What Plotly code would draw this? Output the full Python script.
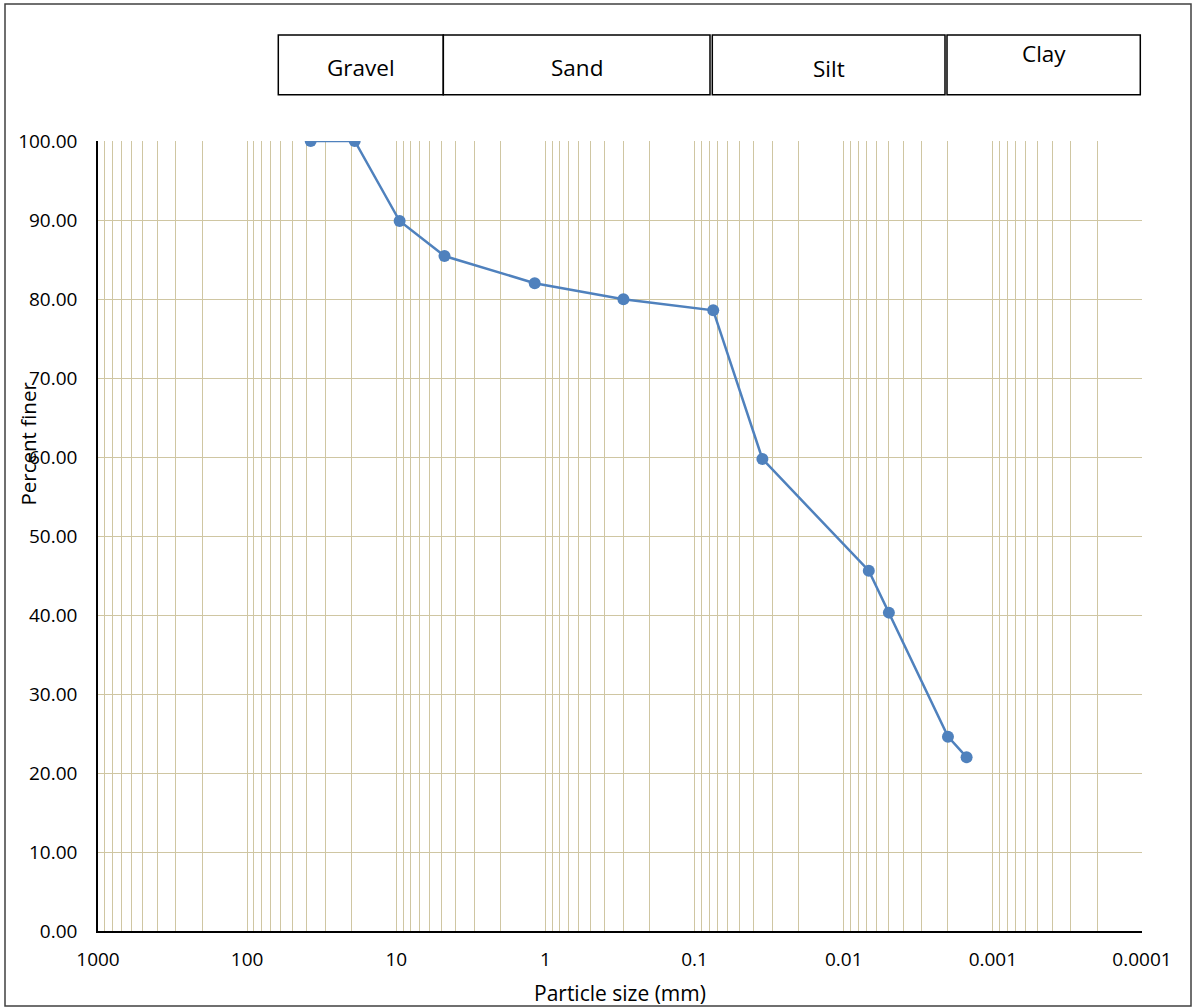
import plotly.graph_objects as go

# ---- data ----
particle_size_mm = [37.5, 19.0, 9.5, 4.75, 1.18, 0.300, 0.075, 0.0351, 0.00679, 0.00498, 0.0020, 0.0015]
percent_finer = [100.0, 100.0, 89.87, 85.44, 82.0, 79.96, 78.57, 59.75, 45.6, 40.3, 24.6, 22.0]

x_tick_vals = [1000, 100, 10, 1, 0.1, 0.01, 0.001, 0.0001]
x_tick_text = ["1000", "100", "10", "1", "0.1", "0.01", "0.001", "0.0001"]
y_tick_vals = [0, 10, 20, 30, 40, 50, 60, 70, 80, 90, 100]

soil_classes = ["Gravel", "Sand", "Silt", "Clay"]

# ---- layout geometry (pixels) ----
W, H = 1193, 1008
L, R, T, B = 98, 51, 141, 77
PW, PH = W - L - R, H - T - B


def xp(px):
    return (px - L) / PW


def yp(py):
    return (H - B - py) / PH


minor_vals = [m * 10 ** e for e in range(-4, 3) for m in range(2, 10)]

GRID = "#CFC6A2"
BLUE = "#4F81BD"
FONT = "Open Sans, DejaVu Sans, sans-serif"

fig = go.Figure()
fig.add_trace(go.Scatter(
    x=particle_size_mm, y=percent_finer, mode="lines+markers",
    line=dict(color=BLUE, width=2.5),
    marker=dict(color=BLUE, size=12),
    showlegend=False,
))

shapes = []
annotations = []

# outer border
shapes.append(dict(type="rect", xref="paper", yref="paper",
                   x0=xp(5), x1=xp(1191), y0=yp(1006), y1=yp(4),
                   line=dict(color="#404040", width=1.5), layer="above"))

# classification boxes
box_x = [(278.3, 443.3), (443.3, 710.0), (712.3, 945.0), (947.0, 1140.3)]
text_y = [68, 68, 69, 53]
for name, (a, b), ty in zip(soil_classes, box_x, text_y):
    shapes.append(dict(type="rect", xref="paper", yref="paper",
                       x0=xp(a), x1=xp(b), y0=yp(94.7), y1=yp(35),
                       line=dict(color="black", width=1.5)))
    annotations.append(dict(text=name, xref="paper", yref="paper",
                            x=xp((a + b) / 2), y=yp(ty), showarrow=False,
                            xanchor="center", yanchor="middle",
                            font=dict(family=FONT, size=22.5, color="black")))

# axis titles
annotations.append(dict(text="Percent finer", xref="paper", yref="paper",
                        x=xp(27.5), y=yp(444), textangle=-90, showarrow=False,
                        xanchor="center", yanchor="middle",
                        font=dict(family=FONT, size=20.5, color="black")))
annotations.append(dict(text="Particle size (mm)", xref="paper", yref="paper",
                        x=0.5, y=yp(993), showarrow=False,
                        xanchor="center", yanchor="middle",
                        font=dict(family=FONT, size=21, color="black")))

fig.update_layout(
    width=W, height=H,
    margin=dict(l=L, r=R, t=T, b=B, pad=0, autoexpand=False),
    paper_bgcolor="white", plot_bgcolor="white",
    font=dict(family=FONT, size=19, color="black"),
    shapes=shapes, annotations=annotations,
    xaxis=dict(
        type="log", range=[3, -4], automargin=False,
        tickvals=x_tick_vals, ticktext=x_tick_text,
        showgrid=True, gridcolor=GRID, gridwidth=1,
        minor=dict(tickvals=minor_vals, showgrid=True, gridcolor=GRID, gridwidth=1, ticks=""),
        showline=True, linecolor="black", linewidth=1.5,
        ticks="", ticklabelstandoff=10,
        tickfont=dict(family=FONT, size=19),
        zeroline=False,
    ),
    yaxis=dict(
        range=[0, 100], tickvals=y_tick_vals, tickformat=".2f", automargin=False,
        showgrid=True, gridcolor=GRID, gridwidth=1,
        showline=True, linecolor="black", linewidth=1.5,
        ticks="", ticklabelstandoff=15,
        tickfont=dict(family=FONT, size=19),
        zeroline=False,
    ),
)

fig.write_html("out.html")
